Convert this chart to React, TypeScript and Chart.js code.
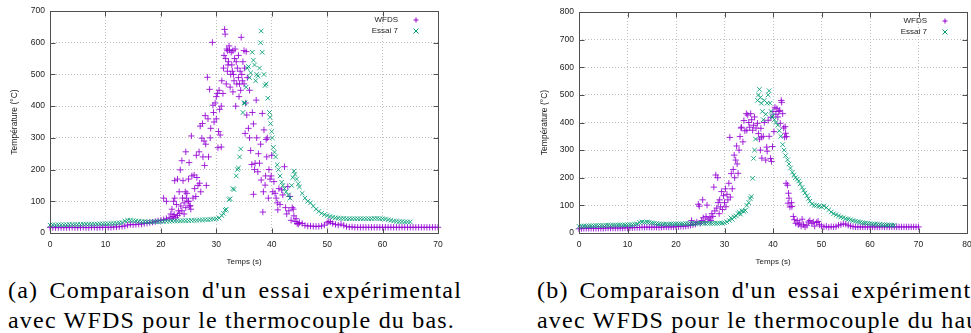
import React, { useEffect, useRef } from "react";
import { Chart, registerables } from "chart.js";

Chart.register(...registerables);

// ---------- DATA : (a) thermocouple du bas ----------
const wfdsBas: [number, number][] = [
  [0,18],[0.5,17],[1,17],[1.5,17],[2,17],[2.5,17],[3,17],[3.5,17],[4,18],[4.5,17],[5,17],[5.5,17],[6,18],[6.5,17],[7,17],[7.5,18],[8,18],[8.5,17],[9,18],[9.5,18],[10,18],[10.5,18],[11,18],[11.5,19],[12,19],[12.5,20],[13,21],[13.5,22],[14,25],[14.5,27],[15,26],[15.5,27],[16,28],[16.5,28],[17,30],[17.5,31],[18,33],[18.5,34],[19,36],[19.5,38],[20,40],[20.5,42],[20.5,110],[21,45],[21,100],[21.5,48],
  [21.8,60],[22,75],[22,45],[22.2,52],[22.3,100],[22.4,58],[22.5,110],[22.5,165],[22.7,48],[22.8,90],[23,170],[23,55],[23.2,70],[23.3,130],[23.4,62],[23.5,199],[23.6,85],[23.8,228],[23.8,70],[23.9,110],[24,165],[24.2,95],[24.2,60],[24.4,130],[24.5,256],[24.5,80],[24.6,110],[24.7,125],[24.9,100],[25,170],[25,100],[25.1,222],[25.2,85],[25.3,86],[25.4,75],[25.5,306],[25.6,180],[25.8,110],[26,183],[26.1,140],[26.3,115],[26.4,245],[26.5,175],[26.7,150],[26.9,256],[27,157],[27.1,337],[27.2,130],[27.4,299],[27.5,345],[27.6,240],[27.8,290],[27.9,213],[28,370],[28.1,280],[28.2,150],[28.4,491],[28.5,360],[28.6,240],[28.8,453],[28.9,300],[29,330],[29.3,601],[29.4,403],[29.5,380],[29.6,350],[29.8,410],[30,430],[30,360],[30.2,440],[30.3,269],[30.4,320],[30.5,450],[30.6,390],[30.7,309],[30.9,271],[30.9,400],[31,480],[31.2,440],[31.3,520],[31.4,560],[31.5,642],[31.6,627],[31.7,550],[31.8,470],[31.9,580],[32,510],[32,575],[32.1,530],[32.2,540],[32.3,590],[32.4,577],[32.5,460],[32.6,500],[32.7,570],[32.8,530],[32.9,510],[33,575],[33,445],[33.1,500],[33.2,480],[33.3,550],[33.4,580],[33.5,400],[33.6,540],[33.7,470],[33.8,520],[34,490],[34,560],[34.1,430],[34.2,470],[34.3,510],[34.4,450],[34.5,617],[34.6,500],[34.7,480],[34.8,540],[35,470],[35,575],[35.1,520],[35.2,314],[35.3,410],[35.4,572],[35.5,372],[35.6,490],[35.8,330],[36,300],[36,450],[36.2,260],[36.4,216],[36.5,380],[36.7,344],[36.7,122],[36.9,200],[37,220],[37.2,419],[37.3,300],[37.5,193],[37.6,250],[37.8,220],[38,280],[38.1,167],[38.3,377],[38.4,66],[38.5,130],[38.6,325],[38.8,151],[38.9,180],[39,295],[39.1,240],[39.2,300],[39.4,110],[39.5,200],[39.7,170],[39.9,180],[40,245],[40.2,130],[40.4,162],[40.6,125],[40.8,110],[41,95],[41.1,73],[41.3,140],[41.5,90],[41.8,136],[42,120],[42.3,209],[42.5,80],[42.7,60],[42.9,146],[43.1,70],[43.3,115],[43.5,40],[43.7,80],[43.9,75],[44,54],[44.2,36],[44.4,45],[44.6,30],[44.8,28],[45,33],[45.5,30],[46,24],[46.5,22],[47,22],[47.5,21],[48,21],[48.5,21],[49,22],[49.5,25],[50,32],[50.3,36],[50.6,35],[51,30],[51.5,27],[52,25],[52.5,28],[53,24],[53.5,20],[54,19],[54.5,19],[55,18],[55.5,18],[56,18],[56.5,18],[57,18],[57.5,18],[58,18],[58.5,18],[59,18],[59.5,18],[60,18],[60.5,18],[61,18],[61.5,18],[62,18],[62.5,18],[63,18],[63.5,18],[64,18],[64.5,18],[65,18],[65.5,18],[66,18],[66.5,18],[67,18],[67.5,18],[68,18],[68.5,18],[69,18],[69.5,18],[70,18]
];

const essaiBas: [number, number][] = [
  [0,25],[0.5,26],[1,25],[1.5,26],[2,26],[2.5,26],[3,26],[3.5,27],[4,27],[4.5,27],[5,27],[5.5,27],[6,28],[6.5,28],[7,28],[7.5,28],[8,28],[8.5,28],[9,29],[9.5,29],[10,29],[10.5,29],[11,30],[11.5,30],[12,31],[12.5,32],[13,33],[13.5,38],[14,40],[14.5,40],[15,39],[15.5,38],[16,37],[16.5,36],[17,36],[17.5,35],[18,35],[18.5,35],[19,36],[19.5,36],[20,36],[20.5,37],[21,37],[21.5,37],[22,38],[22.5,38],[23,38],[23.5,38],[24,39],[24.5,39],[25,39],[25.5,40],[26,40],[26.5,40],[27,41],[27.5,41],[28,42],[28.5,42],[29,43],[29.5,44],[30,45],[30.5,47],[31,55],[31.3,62],[31.6,72],[31.8,75],[32.3,105],[32.5,108],[33,140],[33.2,137],[33.6,180],[33.8,200],[34,205],[34.2,240],[34.4,265],[34.8,380],[35,410],[35.2,410],[35.4,460],[35.6,520],[35.8,525],[36,490],[36.2,505],[36.5,570],[36.7,545],[36.9,530],[37.1,480],[37.3,500],[37.5,495],[37.8,520],[38,600],[38.1,637],[38.3,570],[38.6,500],[38.8,465],[39,470],[39.3,425],[39.6,380],[39.7,365],[39.8,345],[40,320],[40.1,300],[40.3,270],[40.5,255],[40.7,240],[41,215],[41.2,200],[41.5,180],[41.8,160],[42,150],[42.3,140],[42.6,130],[43,120],[43.3,110],[43.6,150],[43.8,175],[44,195],[44.2,185],[44.5,170],[44.8,155],[45,145],[45.5,125],[46,110],[46.5,100],[47,95],[47.5,85],[48,75],[48.5,68],[49,62],[49.5,58],[50,55],[50.5,52],[51,50],[51.5,48],[52,47],[52.5,46],[53,46],[53.5,45],[54,45],[54.5,45],[55,45],[55.5,45],[56,45],[56.5,45],[57,45],[57.5,45],[58,45],[58.5,46],[59,46],[59.5,45],[60,45],[60.5,44],[61,42],[61.5,40],[62,38],[62.5,37],[63,36],[63.5,36],[64,35],[64.5,35],[65,35]
];

// ---------- DATA : (b) thermocouple du haut ----------
const wfdsHaut: [number, number][] = [
  [0,15],[0.5,16],[1,17],[1.5,17],[2,17],[2.5,17],[3,17],[3.5,17],[4,17],[4.5,17],[5,17],[5.5,18],[6,18],[6.5,18],[7,18],[7.5,18],[8,18],[8.5,18],[9,18],[9.5,19],[10,19],[10.5,19],[11,19],[11.5,20],[12,20],[12.5,20],[13,21],[13.5,21],[14,21],[14.5,21],[15,21],[15.5,21],[16,21],[16.5,21],[17,21],[17.5,22],[18,22],[18.5,22],[19,22],[19.5,22],[20,23],[20.5,23],[21,24],[21.5,24],[22,25],[22.5,26],[23,28],[23.2,45],[23.5,30],[24,32],[24.3,40],[24.6,104],[24.8,97],[25,35],[25.3,45],[25.5,120],[25.6,55],[26,40],[26.2,60],[26.4,101],[26.6,50],[27,55],[27.2,45],[27.4,70],[27.6,60],[27.8,166],[28,80],[28.2,210],[28.4,90],[28.6,200],[28.7,110],[28.9,70],[29,120],[29.2,95],[29.4,150],[29.6,85],[29.8,135],[30,110],[30.2,160],[30.3,95],[30.5,140],[30.7,120],[30.9,180],[31.1,346],[31.2,130],[31.4,215],[31.6,160],[31.8,230],[32,282],[32.1,200],[32.3,264],[32.5,315],[32.6,250],[32.8,216],[33,300],[33.2,349],[33.4,380],[33.5,383],[33.8,330],[34,407],[34.2,370],[34.5,432],[34.6,372],[34.8,427],[35,400],[35.2,383],[35.4,432],[35.6,410],[35.8,372],[36,390],[36.2,420],[36.5,380],[36.8,397],[37,360],[37.2,340],[37.4,300],[37.5,379],[37.6,347],[37.7,271],[38,350],[38.2,400],[38.5,264],[38.7,311],[38.8,296],[39,408],[39.2,350],[39.5,270],[39.6,419],[39.7,259],[39.9,313],[40,440],[40.2,367],[40.4,455],[40.6,430],[40.8,450],[41,420],[41.2,440],[41.4,444],[41.5,397],[41.7,480],[41.8,473],[42,432],[42.2,380],[42.4,347],[42.5,385],[42.6,361],[42.7,180],[42.8,349],[43,173],[43.1,108],[43.2,144],[43.3,126],[43.5,94],[43.8,110],[43.9,96],[44.2,60],[44.4,48],[44.7,35],[45,45],[45.2,30],[45.5,36],[45.8,25],[46,50],[46.3,30],[46.6,22],[47,28],[47.3,40],[47.6,45],[48,35],[48.3,40],[48.6,25],[49,38],[49.3,42],[49.6,30],[50,25],[50.5,22],[51,24],[51.5,21],[52,23],[52.5,22],[53,23],[53.5,28],[54,30],[54.5,33],[55,32],[55.5,28],[56,25],[56.5,23],[57,22],[57.5,22],[58,22],[58.5,22],[59,22],[59.5,22],[60,22],[60.5,22],[61,22],[61.5,22],[62,22],[62.5,22],[63,22],[63.5,22],[64,22],[64.5,22],[65,22],[65.5,22],[66,22],[66.5,22],[67,22],[67.5,22],[68,22],[68.5,22],[69,22],[69.5,22],[70,22]
];

const essaiHaut: [number, number][] = [
  [0,24],[0.5,25],[1,25],[1.5,25],[2,26],[2.5,26],[3,26],[3.5,27],[4,27],[4.5,27],[5,27],[5.5,28],[6,28],[6.5,28],[7,28],[7.5,29],[8,29],[8.5,29],[9,29],[9.5,29],[10,30],[10.5,30],[11,30],[11.5,31],[12,33],[12.5,38],[13,40],[13.5,39],[14,40],[14.5,39],[15,37],[15.5,35],[16,34],[16.5,33],[17,33],[17.5,32],[18,32],[18.5,32],[19,33],[19.5,33],[20,33],[20.5,33],[21,33],[21.5,33],[22,34],[22.5,34],[23,34],[23.5,34],[24,34],[24.5,35],[25,35],[25.5,35],[26,35],[26.5,35],[27,35],[27.5,35],[28,35],[28.5,35],[29,36],[29.5,36],[30,37],[30.5,40],[31,45],[31.3,55],[31.6,50],[32,58],[32.4,62],[32.8,70],[33,75],[33.3,68],[33.6,80],[34,78],[34.3,82],[34.6,100],[35,110],[35.3,125],[35.5,132],[35.8,198],[36,270],[36.2,300],[36.4,340],[36.8,480],[37,500],[37.2,520],[37.4,490],[37.6,470],[37.8,440],[38,410],[38.2,480],[38.5,430],[38.8,470],[39,500],[39.2,515],[39.4,470],[39.6,440],[39.8,420],[40,425],[40.3,410],[40.6,400],[41,390],[41.3,370],[41.6,350],[42,320],[42.3,300],[42.6,280],[43,265],[43.3,250],[43.6,235],[44,220],[44.3,210],[44.6,200],[45,195],[45.3,188],[45.6,178],[46,165],[46.3,155],[46.6,145],[47,135],[47.3,125],[47.6,115],[48,105],[48.5,100],[49,100],[49.5,97],[50,95],[50.5,98],[51,92],[51.5,84],[52,76],[52.5,70],[53,66],[53.5,62],[54,58],[54.5,55],[55,52],[55.5,50],[56,48],[56.5,45],[57,43],[57.5,41],[58,39],[58.5,37],[59,36],[59.5,35],[60,34],[60.5,33],[61,32],[61.5,31],[62,31],[62.5,30],[63,30],[63.5,29],[64,29],[64.5,28],[65,28]
];

const seriesLabels = ["WFDS", "Essai 7"];
const xTitle = "Temps (s)";
const yTitle = "Température (°C)";
const captionA = ["(a) Comparaison d'un essai expérimental", "avec WFDS pour le thermocouple du bas."];
const captionB = ["(b) Comparaison d'un essai expérimental", "avec WFDS pour le thermocouple du haut."];

const PURPLE = "rgba(148,0,211,0.85)";
const GREEN = "rgba(0,158,115,0.85)";
const FONT = "'Liberation Sans', Arial, sans-serif";

const framePlugin = {
  id: "gnuFrame",
  afterDatasetsDraw(chart: any) {
    const { ctx, chartArea: a, scales } = chart;
    ctx.save();
    ctx.strokeStyle = "#505050";
    ctx.lineWidth = 1;
    const L = Math.round(a.left) + 0.5, R = Math.round(a.right) + 0.5;
    const T = Math.round(a.top) + 0.5, B = Math.round(a.bottom) + 0.5;
    ctx.strokeRect(L, T, R - L, B - T);
    const tl = 5;
    ctx.beginPath();
    scales.x.ticks.forEach((t: any) => {
      const px = Math.round(scales.x.getPixelForValue(t.value)) + 0.5;
      ctx.moveTo(px, B); ctx.lineTo(px, B - tl);
      ctx.moveTo(px, T); ctx.lineTo(px, T + tl);
    });
    scales.y.ticks.forEach((t: any) => {
      const py = Math.round(scales.y.getPixelForValue(t.value)) + 0.5;
      ctx.moveTo(L, py); ctx.lineTo(L + tl, py);
      ctx.moveTo(R, py); ctx.lineTo(R - tl, py);
    });
    ctx.stroke();
    // legend
    ctx.font = `8px ${FONT}`;
    ctx.fillStyle = "#222";
    ctx.textAlign = "right";
    ctx.textBaseline = "middle";
    const colors = ["rgb(148,0,211)", "rgb(0,158,115)"];
    seriesLabels.forEach((lab, i) => {
      const y = a.top + 9 + i * 11;
      ctx.fillText(lab, a.right - 40, y);
      const mx = a.right - 22;
      const s = 2.5;
      ctx.strokeStyle = colors[i];
      ctx.beginPath();
      if (i === 0) {
        ctx.moveTo(mx - s, y); ctx.lineTo(mx + s, y);
        ctx.moveTo(mx, y - s); ctx.lineTo(mx, y + s);
      } else {
        ctx.moveTo(mx - s, y - s); ctx.lineTo(mx + s, y + s);
        ctx.moveTo(mx - s, y + s); ctx.lineTo(mx + s, y - s);
      }
      ctx.stroke();
    });
    ctx.restore();
  },
};

type PlotProps = {
  wfds: [number, number][];
  essai: [number, number][];
  xMax: number;
  yMax: number;
  yAxisWidth: number;
  padTop: number;
  padRight: number;
  width: number;
  height: number;
};

function Plot(p: PlotProps) {
  const ref = useRef<HTMLCanvasElement | null>(null);
  useEffect(() => {
    if (!ref.current) return;
    const tickFont = { family: FONT, size: 8.5 };
    const chart = new Chart(ref.current, {
      type: "scatter",
      data: {
        datasets: [
          {
            label: seriesLabels[0],
            data: p.wfds.map(([x, y]) => ({ x, y })),
            pointStyle: "cross",
            pointRadius: 3.2,
            borderColor: PURPLE,
            backgroundColor: PURPLE,
            borderWidth: 1,
            order: 1,
            clip: false as any,
          },
          {
            label: seriesLabels[1],
            data: p.essai.map(([x, y]) => ({ x, y })),
            pointStyle: "crossRot",
            pointRadius: 3.2,
            borderColor: GREEN,
            backgroundColor: GREEN,
            borderWidth: 1,
            order: 0,
            clip: false as any,
          },
        ],
      },
      options: {
        animation: false,
        responsive: false,
        devicePixelRatio: 1,
        layout: { padding: { left: 0, top: p.padTop, right: p.padRight, bottom: 0 } },
        plugins: { legend: { display: false }, tooltip: { enabled: false } },
        scales: {
          x: {
            type: "linear",
            min: 0,
            max: p.xMax,
            ticks: { stepSize: 10, color: "#222", font: tickFont, padding: 7, autoSkip: false, maxRotation: 0 },
            grid: { color: "#c0c0c0", drawTicks: false },
            border: { display: false, dash: [1, 2] },
            title: { display: true, text: xTitle, color: "#222", font: { family: FONT, size: 8 }, padding: { top: 0, bottom: 8 } },
            afterFit: (s: any) => { s.height = p.height - 233; },
          },
          y: {
            type: "linear",
            min: 0,
            max: p.yMax,
            ticks: { stepSize: 100, color: "#222", font: tickFont, padding: 5 },
            grid: { color: "#c0c0c0", drawTicks: false },
            border: { display: false, dash: [1, 2] },
            title: { display: true, text: yTitle, color: "#222", font: { family: FONT, size: 8.5 }, padding: { top: 10, bottom: 0 } },
            afterFit: (s: any) => { s.width = p.yAxisWidth; },
          },
        },
      },
      plugins: [framePlugin],
    } as any);
    return () => chart.destroy();
  }, []);
  return <canvas ref={ref} width={p.width} height={p.height} style={{ display: "block" }} />;
}

function Caption({ lines, left }: { lines: string[]; left: number }) {
  const base: React.CSSProperties = {
    position: "absolute",
    left,
    width: 454,
    fontFamily: "'Liberation Serif', serif",
    fontSize: 24,
    letterSpacing: "1.2px",
    lineHeight: "30px",
    whiteSpace: "nowrap",
    textAlign: "justify",
    textAlignLast: "justify" as any,
    color: "#000",
  };
  return (
    <>
      <div style={{ ...base, top: 275 }}>{lines[0]}</div>
      <div style={{ ...base, top: 305, width: 447 }}>{lines[1]}</div>
    </>
  );
}

export default function App() {
  return (
    <div style={{ position: "fixed", left: 0, top: 0, width: 971, height: 333, overflow: "hidden", background: "#fff" }}>
      <div style={{ position: "absolute", left: 0, top: 0 }}>
        <Plot wfds={wfdsBas} essai={essaiBas} xMax={70} yMax={700} yAxisWidth={50} padTop={11} padRight={47} width={485} height={275} />
      </div>
      <div style={{ position: "absolute", left: 530, top: 0 }}>
        <Plot wfds={wfdsHaut} essai={essaiHaut} xMax={80} yMax={800} yAxisWidth={49} padTop={12} padRight={23} width={460} height={275} />
      </div>
      <Caption lines={captionA} left={8} />
      <Caption lines={captionB} left={537} />
    </div>
  );
}
